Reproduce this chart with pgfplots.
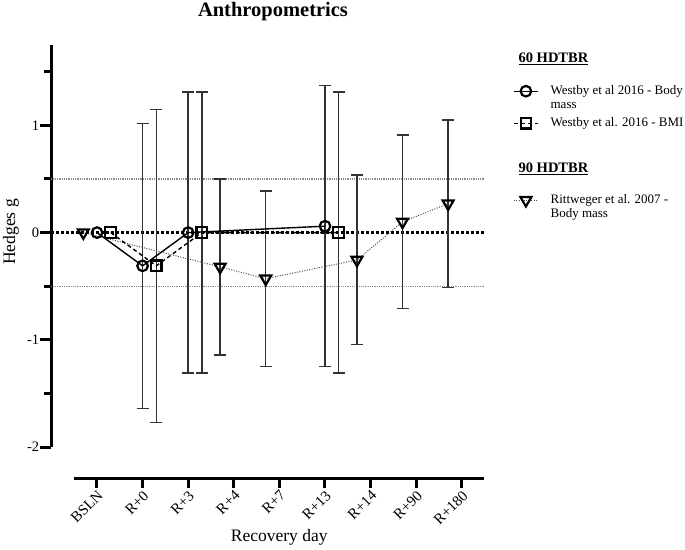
\documentclass[border=0pt]{standalone}
\usepackage{fontspec}
\setmainfont{Liberation Serif}
\usepackage{pgfplots}
\pgfplotsset{compat=1.18}
\tikzset{
  lgH1/.style={inner sep=0pt,text height=30.5pt,text depth=21.5pt},
  lgH2/.style={inner sep=0pt,text height=29.5pt,text depth=20.5pt},
  lgE/.style={inner sep=0pt,text height=10.5pt,text depth=3.5pt},
  lgS/.style={inner sep=0pt,text height=14.5pt,text depth=7.5pt},
  lgB/.style={inner sep=0pt,text height=8pt,text depth=1pt},
}
\pgfplotsset{
  myerr/.style={forget plot, draw=none, mark=none,
    error bars/.cd, y dir=both, y explicit, error mark=|,
    error bar style={draw=black!80, line width=1.5pt, solid},
    error mark options={draw=black!80, line width=1.5pt, mark size=6pt, solid}},
}
\newcommand{\hd}[1]{\fontsize{14.5}{17}\selectfont\bfseries\underline{#1}}
\begin{document}
\begin{tikzpicture}
\useasboundingbox (-51.4pt,-102pt) rectangle (633.6pt,447pt);
\begin{axis}[
  at={(0pt,0pt)}, anchor=south west,
  scale only axis, width=433.2pt, height=402pt,
  xmin=-1, xmax=8.5, ymin=-2, ymax=1.75,
  axis x line=none, axis y line=left,
  axis line style={-, line width=3pt},
  xtick=\empty,
  ytick={-2,-1,0,1}, yticklabels={-2,-1,0,1},
  minor ytick={-1.5,-0.5,0.5,1.5},
  tick align=outside,
  major tick length=11pt, minor tick length=7pt,
  every tick/.style={line width=3pt, black},
  every minor tick/.style={line width=3pt, black},
  yticklabel style={font=\fontsize{14.5}{17}\selectfont, inner sep=1pt},
  ylabel={Hedges g},
  ylabel style={at={(axis description cs:-0.0933,0.535)}, anchor=center, font=\fontsize{17.5}{21}\selectfont},
  clip=false,
  legend cell align=left,
  legend image code/.code={\draw[mark repeat=2,mark phase=2,#1] plot coordinates {(0pt,0pt) (12pt,0pt) (24pt,0pt)};},
  legend style={at={(1.0656,1.0323)}, anchor=north west, draw=none, fill=none,
    inner sep=0pt, row sep=0pt, column sep=12pt,
    font=\fontsize{13}{15.6}\selectfont},
]
% reference lines
\addplot[forget plot, black!45, line width=1.2pt, dash pattern=on 1pt off 0.8pt] coordinates {(-1,0.5) (8.5,0.5)};
\addplot[forget plot, black!45, line width=1.2pt, dash pattern=on 1pt off 0.8pt] coordinates {(-1,-0.5) (8.5,-0.5)};
\addplot[forget plot, black, line width=2.5pt, dash pattern=on 2.5pt off 2.5pt] coordinates {(-1,0) (8.5,0)};
% error bars
\addplot[myerr] coordinates {(1,-0.31) +- (0,1.33) (2,0) +- (0,1.31) (5,0.06) +- (0,1.31)};
\addplot[myerr] coordinates {(1.3,-0.31) +- (0,1.46) (2.3,0) +- (0,1.31) (5.3,0) +- (0,1.31)};
\addplot[myerr] coordinates {(2.7,-0.32) +- (0,0.82) (3.7,-0.43) +- (0,0.82) (5.7,-0.255) +- (0,0.79) (6.7,0.10) +- (0,0.81) (7.7,0.27) +- (0,0.78)};
% series
\addplot[forget plot, black!70, line width=1pt, dash pattern=on 1pt off 1.5pt,
  mark=triangle, mark size=6.3pt, mark options={solid, black, rotate=180, line width=2.2pt}]
  coordinates {(-0.3,0) (2.7,-0.32) (3.7,-0.43) (5.7,-0.255) (6.7,0.10) (7.7,0.27)};
\addplot[forget plot, black, line width=1.4pt,
  mark=o, mark size=5.3pt, mark options={solid, line width=2.2pt}]
  coordinates {(0,0) (1,-0.31) (2,0) (5,0.06)};
\addplot[forget plot, black, line width=1.4pt, dash pattern=on 4pt off 3pt,
  mark=square, mark size=5.3pt, mark options={solid, line width=2.2pt}]
  coordinates {(0.3,0) (1.3,-0.31) (2.3,0) (5.3,0)};
% legend
\addlegendimage{empty legend}\addlegendentry[lgH1]{\hspace*{-32pt}\hd{60 HDTBR}}
\addlegendimage{black, line width=1.4pt, mark=o, mark size=5.3pt, mark options={solid, line width=2.2pt}}
\addlegendentry[lgE]{Westby et al 2016 - Body}
\addlegendimage{empty legend}\addlegendentry[lgE]{mass}
\addlegendimage{black, line width=1.4pt, dash pattern=on 4pt off 3pt, mark=square, mark size=5.3pt, mark options={solid, line width=2.2pt}}
\addlegendentry[lgS]{Westby et al. 2016 - BMI}
\addlegendimage{empty legend}\addlegendentry[lgB]{}
\addlegendimage{empty legend}\addlegendentry[lgH2]{\hspace*{-32pt}\hd{90 HDTBR}}
\addlegendimage{black!70, line width=1pt, dash pattern=on 1pt off 1.5pt, mark=triangle, mark size=6.3pt, mark options={solid, black, rotate=180, line width=2.2pt}}
\addlegendentry[lgE]{Rittweger et al. 2007 -}
\addlegendimage{empty legend}\addlegendentry[lgE]{Body mass}
\end{axis}
\begin{axis}[
  at={(22.6pt,-31pt)}, anchor=south west,
  scale only axis, width=410.4pt, height=1pt,
  xmin=-0.5, xmax=8.5, ymin=0, ymax=1,
  axis x line=bottom, axis y line=none,
  axis line style={-, line width=3pt},
  ytick=\empty,
  xtick={0,...,8},
  xticklabels={BSLN,R+0,R+3,R+4,R+7,R+13,R+14,R+90,R+180},
  tick align=outside, major tick length=10pt,
  every tick/.style={line width=3pt, black},
  xticklabel style={rotate=45, anchor=north east, font=\fontsize{15}{17}\selectfont, inner sep=1pt},
  xlabel={Recovery day},
  xlabel style={at={(axis description cs:0.5,0)}, anchor=center, yshift=-59pt, font=\fontsize{17.5}{21}\selectfont},
]
\addplot[draw=none, mark=none] coordinates {(0,0.5) (8,0.5)};
\end{axis}
\node[font=\fontsize{20.5}{24}\selectfont\bfseries] at (221.6pt,435pt) {Anthropometrics};
\end{tikzpicture}
\end{document}
